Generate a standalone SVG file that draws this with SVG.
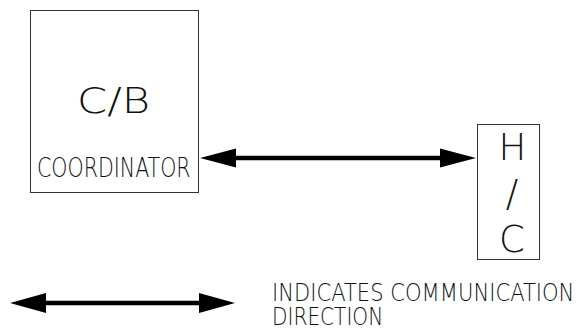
<svg xmlns="http://www.w3.org/2000/svg" width="579" height="329" viewBox="0 0 579 329">
<style>
.box{fill:#fff;stroke:#333;stroke-width:1}
.t{font-family:"DejaVu Sans","Liberation Sans",sans-serif;font-weight:200;fill:#111}
.ln{stroke:#000;stroke-width:4.5;fill:none}
.hd{fill:#000}
</style>
<rect width="579" height="329" fill="#fff"/>
<g id="cb">
<rect class="box" x="30.5" y="10.5" width="168" height="182"/>
<text class="t" x="77" y="113" font-size="36" textLength="73" lengthAdjust="spacingAndGlyphs">C/B</text>
<text class="t" transform="translate(37,177) scale(0.8,1)" font-size="26" textLength="192" lengthAdjust="spacingAndGlyphs">COORDINATOR</text>
</g>
<g id="hc">
<rect class="box" x="477.5" y="124.5" width="62" height="135"/>
<text class="t" x="512.5" y="160" font-size="37" text-anchor="middle">H</text>
<text class="t" x="512" y="206" font-size="37" text-anchor="middle">/</text>
<text class="t" x="512" y="252" font-size="37" text-anchor="middle">C</text>
</g>
<g id="connectors">
<line class="ln" x1="232" y1="158" x2="444" y2="158"/>
<polygon class="hd" points="200,158 236,148.5 236,167.5"/>
<polygon class="hd" points="476,158 440,148.5 440,167.5"/>
</g>
<g id="legend">
<line class="ln" x1="42" y1="303" x2="203" y2="303"/>
<polygon class="hd" points="10,303 46,293 46,313"/>
<polygon class="hd" points="235,303 199,293 199,313"/>
<text class="t" transform="translate(272,301) scale(0.8,1)" font-size="25" textLength="378" lengthAdjust="spacingAndGlyphs">INDICATES  COMMUNICATION</text>
<text class="t" transform="translate(272,325) scale(0.8,1)" font-size="25" textLength="139" lengthAdjust="spacingAndGlyphs">DIRECTION</text>
</g>
</svg>
